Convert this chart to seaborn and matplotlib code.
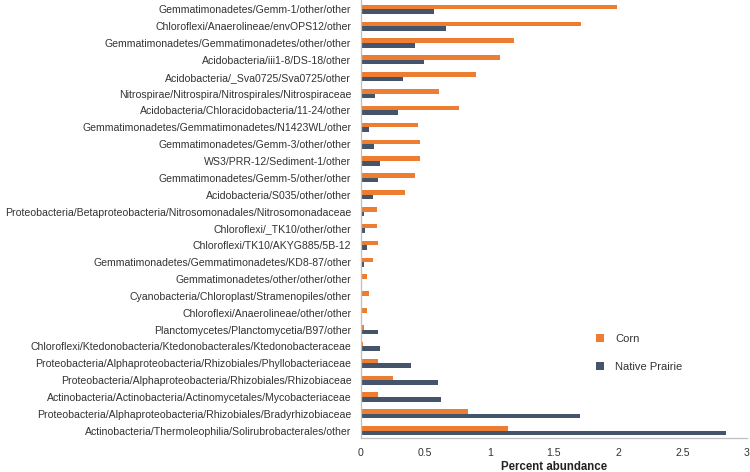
import matplotlib
matplotlib.use("Agg")
import matplotlib.pyplot as plt
import seaborn as sns
import pandas as pd

categories = [
    "Gemmatimonadetes/Gemm-1/other/other",
    "Chloroflexi/Anaerolineae/envOPS12/other",
    "Gemmatimonadetes/Gemmatimonadetes/other/other",
    "Acidobacteria/iii1-8/DS-18/other",
    "Acidobacteria/_Sva0725/Sva0725/other",
    "Nitrospirae/Nitrospira/Nitrospirales/Nitrospiraceae",
    "Acidobacteria/Chloracidobacteria/11-24/other",
    "Gemmatimonadetes/Gemmatimonadetes/N1423WL/other",
    "Gemmatimonadetes/Gemm-3/other/other",
    "WS3/PRR-12/Sediment-1/other",
    "Gemmatimonadetes/Gemm-5/other/other",
    "Acidobacteria/S035/other/other",
    "Proteobacteria/Betaproteobacteria/Nitrosomonadales/Nitrosomonadaceae",
    "Chloroflexi/_TK10/other/other",
    "Chloroflexi/TK10/AKYG885/5B-12",
    "Gemmatimonadetes/Gemmatimonadetes/KD8-87/other",
    "Gemmatimonadetes/other/other/other",
    "Cyanobacteria/Chloroplast/Stramenopiles/other",
    "Chloroflexi/Anaerolineae/other/other",
    "Planctomycetes/Planctomycetia/B97/other",
    "Chloroflexi/Ktedonobacteria/Ktedonobacterales/Ktedonobacteraceae",
    "Proteobacteria/Alphaproteobacteria/Rhizobiales/Phyllobacteriaceae",
    "Proteobacteria/Alphaproteobacteria/Rhizobiales/Rhizobiaceae",
    "Actinobacteria/Actinobacteria/Actinomycetales/Mycobacteriaceae",
    "Proteobacteria/Alphaproteobacteria/Rhizobiales/Bradyrhizobiaceae",
    "Actinobacteria/Thermoleophilia/Solirubrobacterales/other",
]

corn = [1.99, 1.71, 1.19, 1.08, 0.89, 0.61, 0.76, 0.44, 0.46, 0.46, 0.42, 0.34,
        0.125, 0.127, 0.135, 0.09, 0.05, 0.06, 0.05, 0.02, 0.015, 0.135, 0.245,
        0.135, 0.83, 1.14]
native_prairie = [0.57, 0.66, 0.42, 0.49, 0.33, 0.11, 0.29, 0.06, 0.10, 0.15, 0.13,
                  0.09, 0.02, 0.03, 0.045, 0.02, 0.003, 0.01, 0.005, 0.13, 0.145,
                  0.39, 0.60, 0.625, 1.70, 2.84]

series_names = ["Corn", "Native Prairie"]
colors = ["#ED7D31", "#44546A"]

df = pd.DataFrame({
    "taxon": categories * 2,
    "value": corn + native_prairie,
    "series": [series_names[0]] * len(categories) + [series_names[1]] * len(categories),
})

sns.set_style("white")
plt.rcParams["font.family"] = ["Liberation Sans", "DejaVu Sans"]

fig = plt.figure(figsize=(7.5, 4.72), dpi=100)
ax = fig.add_axes([361 / 750, 1 - 438 / 472, 386 / 750, 438 / 472])

sns.barplot(data=df, x="value", y="taxon", hue="series", order=categories,
            hue_order=series_names, palette=colors, orient="h", width=0.54,
            saturation=1, edgecolor="none", ax=ax)

ax.set_xlim(0, 3)
ax.set_ylim(len(categories) - 1 + 0.43, -0.55)
ax.set_xticks([0, 0.5, 1, 1.5, 2, 2.5, 3])
ax.set_xticklabels(["0", "0.5", "1", "1.5", "2", "2.5", "3"])
ax.set_ylabel("")
ax.set_xlabel("Percent abundance", fontsize=8.3, fontweight="bold", color="#222222", labelpad=2)

for s in ["top", "right"]:
    ax.spines[s].set_visible(False)
for s in ["left", "bottom"]:
    ax.spines[s].set_color("#BFBFBF")
    ax.spines[s].set_linewidth(0.9)

ax.tick_params(axis="y", length=0, pad=7, labelsize=7.6, labelcolor="#333333")
ax.tick_params(axis="x", length=3, width=0.8, color="#BFBFBF", direction="out",
               pad=4, labelsize=7.6, labelcolor="#333333")
ax.grid(False)

leg = ax.legend(loc="upper left", bbox_to_anchor=(596 / 750, 1 - 334 / 472),
                bbox_transform=fig.transFigure, frameon=False, fontsize=8,
                borderpad=0, borderaxespad=0, labelspacing=1.6,
                handlelength=0.7, handleheight=0.7, handletextpad=1.0)
for t in leg.get_texts():
    t.set_color("#333333")

fig.savefig("out.png", dpi=100)
